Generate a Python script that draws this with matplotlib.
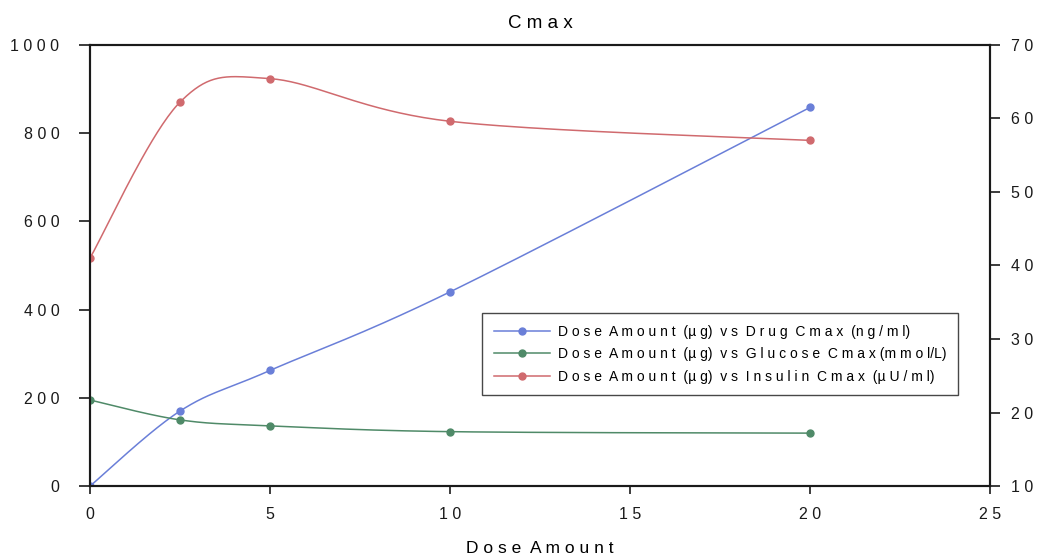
import matplotlib
matplotlib.use("Agg")
import matplotlib.pyplot as plt
import numpy as np

plt.rcParams['font.family'] = ['Liberation Sans', 'DejaVu Sans']

# dose levels (ug) and the three Cmax series
dose = [0, 2.5, 5, 10, 20]
drug_cmax = [0, 170, 262, 440, 858]          # ng/ml, left axis
glucose_cmax = [21.7, 19.0, 18.2, 17.4, 17.2]  # mmol/L, right axis
insulin_cmax = [41.0, 62.2, 65.4, 59.6, 57.0]  # uU/ml, right axis

left_ticks = [0, 200, 400, 600, 800, 1000]
right_ticks = [10, 20, 30, 40, 50, 60, 70]
x_ticks = [0, 5, 10, 15, 20, 25]

blue = '#6a7fd8'
green = '#4f8a68'
red = '#d06a6e'


def spaced(s):
    return ' '.join(str(s))


def smooth(xs, ys, n=40):
    # Catmull-Rom style bezier through every point (like a smoothed line in a spreadsheet)
    p = np.column_stack([xs, ys]).astype(float)
    pts = np.vstack([p[0], p, p[-1]])
    out = []
    t = np.linspace(0, 1, n)[:, None]
    for i in range(1, len(pts) - 2):
        p0, p1, p2, p3 = pts[i - 1], pts[i], pts[i + 1], pts[i + 2]
        c1 = p1 + (p2 - p0) / 6
        c2 = p2 - (p3 - p1) / 6
        seg = ((1 - t) ** 3) * p1 + 3 * ((1 - t) ** 2) * t * c1 + 3 * (1 - t) * t ** 2 * c2 + t ** 3 * p2
        out.append(seg if i == 1 else seg[1:])
    c = np.vstack(out)
    return c[:, 0], c[:, 1]


fig = plt.figure(figsize=(10.44, 5.6), dpi=100)
ax = fig.add_axes([0.0862, 0.132, 0.862, 0.788])
ax2 = ax.twinx()

sx, sy = smooth(dose, drug_cmax)
ax.plot(sx, sy, color=blue, lw=1.1)
ax.plot(dose, drug_cmax, 'o', color=blue, ms=5)
h1, = ax.plot([], [], '-o', color=blue, ms=5, lw=1.1)

sx, sy = smooth(dose, glucose_cmax)
ax2.plot(sx, sy, color=green, lw=1.1)
ax2.plot(dose, glucose_cmax, 'o', color=green, ms=5)
h2, = ax2.plot([], [], '-o', color=green, ms=5, lw=1.1)

sx, sy = smooth(dose, insulin_cmax)
ax2.plot(sx, sy, color=red, lw=1.1)
ax2.plot(dose, insulin_cmax, 'o', color=red, ms=5)
h3, = ax2.plot([], [], '-o', color=red, ms=5, lw=1.1)

for a in (ax, ax2):
    for sp in a.spines.values():
        sp.set_linewidth(1.5)
        sp.set_color('#1a1a1a')

ax.set_xlim(0, 25)
ax.set_ylim(0, 1000)
ax2.set_ylim(10, 70)

ax.set_xticks(x_ticks)
ax.set_xticklabels([spaced(v) for v in x_ticks])
ax.set_yticks(left_ticks)
ax.set_yticklabels([spaced(v) for v in left_ticks])
ax2.set_yticks(right_ticks)
ax2.set_yticklabels([spaced(v) for v in right_ticks])

ax.tick_params(axis='y', direction='out', length=8, width=1.2, labelsize=11.5, pad=14, colors='#1a1a1a')
ax.tick_params(axis='x', direction='out', length=6, width=1.2, labelsize=11.5, pad=9, colors='#1a1a1a')
ax2.tick_params(axis='y', direction='out', length=7, width=1.2, labelsize=11.5, pad=8, colors='#1a1a1a')

ax.set_title('C m a x', fontsize=13.5, pad=12)
ax.set_xlabel('D o s e  A m o u n t', fontsize=12.5, labelpad=14)

labels = [
    'D o s e  A m o u n t  (µ g)  v s  D r u g  C m a x  (n g / m l)',
    'D o s e  A m o u n t  (µ g)  v s  G l u c o s e  C m a x (m m o l/L)',
    'D o s e  A m o u n t  (µ g)  v s  I n s u l i n  C m a x  (µ U / m l)',
]
leg = ax2.legend([h1, h2, h3], labels, loc='upper left', bbox_to_anchor=(0.436, 0.392),
                 fontsize=10, frameon=True, fancybox=False, handlelength=4.0,
                 borderpad=0.85, labelspacing=0.6, handletextpad=0.6, borderaxespad=0)
leg.get_frame().set_edgecolor('#1a1a1a')
leg.get_frame().set_linewidth(1.0)

fig.savefig('out.png', dpi=100)
